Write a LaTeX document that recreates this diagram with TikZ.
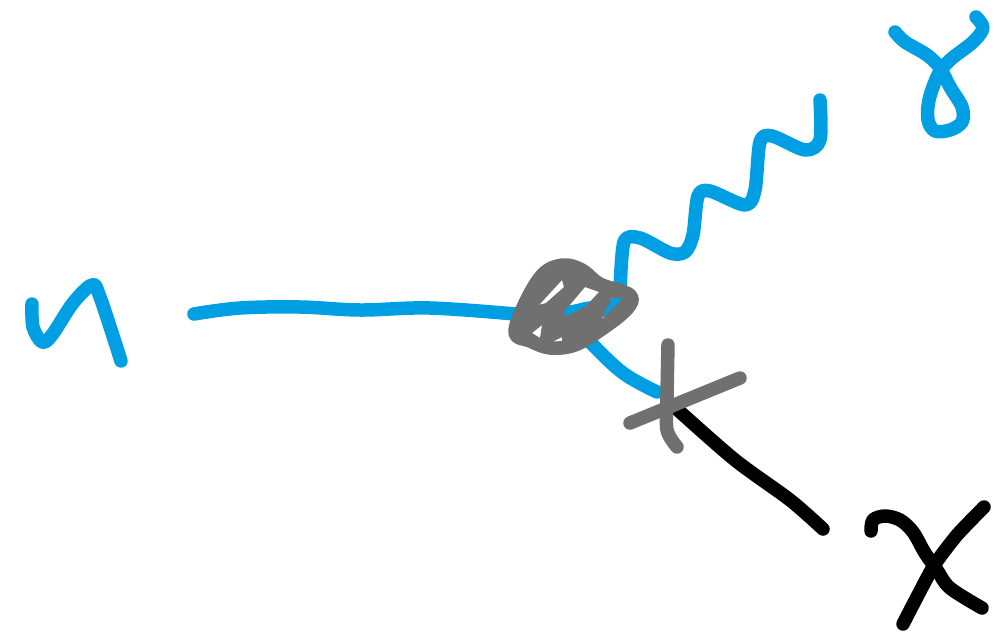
\documentclass[tikz,border=0pt]{standalone}
\usepackage{xcolor}
\usepackage{tikz}
\definecolor{inkblue}{RGB}{0,159,227}
\definecolor{inkgray}{RGB}{112,112,112}
\begin{document}
\begin{tikzpicture}[
            x=1pt, y=-1pt,
            stroke/.style={line width=13.5pt, line cap=round, line join=round},
            bluestroke/.style={stroke, draw=inkblue},
            blackstroke/.style={stroke, draw=black},
            graystroke/.style={stroke, draw=inkgray}
        ]
            \useasboundingbox (0,0) rectangle (999,635);

            \draw[bluestroke] plot[smooth, tension=0.55] coordinates {(32,304) (33,327) (42,342) (52,335) (73,303) (92,285) (100,297) (121,361)};
            \draw[bluestroke] plot[smooth, tension=0.6] coordinates {(194,314) (240,308) (300,307) (360,310) (430,308) (515,314)};
            \draw[bluestroke] plot[smooth, tension=0.5] coordinates {(515,314) (545,311) (570,312) (590,308) (607,310) (622,299)};
            \draw[bluestroke] plot[smooth, tension=0.6] coordinates {(545,318) (572,322) (590,342) (623,373) (657,392)};
            \draw[bluestroke] plot[smooth, tension=0.5] coordinates {(620,292) (624,242) (640,238) (670,253) (685,252) (693,235) (698,196) (710,191) (745,205) (755,190) (760,142) (772,136) (805,150) (820,140) (820,100)};
            \draw[bluestroke] plot[smooth, tension=0.55] coordinates {(895,32) (905,42) (927,55) (940,68) (950,87) (962,107) (962,122) (950,130) (935,131) (928,120) (929,100) (938,75) (950,60) (973,42) (983,28) (976,17)};

            \draw[blackstroke] plot[smooth, tension=0.5] coordinates {(678,410) (735,460) (790,500) (823,529)};
            \draw[blackstroke] plot[smooth, tension=0.55] coordinates {(871,531) (873,520) (885,516) (900,520) (913,532) (925,553) (937,570) (950,588) (982,608)};
            \draw[blackstroke] plot[smooth, tension=0.3] coordinates {(984,507) (957,535) (933,567) (903,624)};

            \draw[graystroke] plot[smooth cycle, tension=0.6] coordinates {(515,333) (525,303) (543,274) (563,265) (582,270) (600,284) (630,295) (627,309) (602,329) (575,345) (550,348) (530,341)};
            \fill[inkgray, even odd rule] plot[smooth cycle, tension=0.6] coordinates {(515,333) (525,303) (543,274) (563,265) (582,270) (600,284) (630,295) (627,309) (602,329) (575,345) (550,348) (530,341)}
                (562,280) -- (564,287) -- (546,303) -- (539,305) -- cycle
                (585,287) -- (599,292) -- (586,306) -- (567,316) -- (563,313) -- cycle
                (532,333) -- (542,325) -- (540,338) -- cycle
                (552,342) -- (562,337) -- (562,341) -- cycle
                (602,318) -- (612,298) -- (623,298) -- (603,318) -- cycle;
            \draw[graystroke] plot[smooth, tension=0.5] coordinates {(668,345) (667,397) (667,430) (677,447)};
            \draw[graystroke] (630,423) -- (740,378);
        \end{tikzpicture}
\end{document}
